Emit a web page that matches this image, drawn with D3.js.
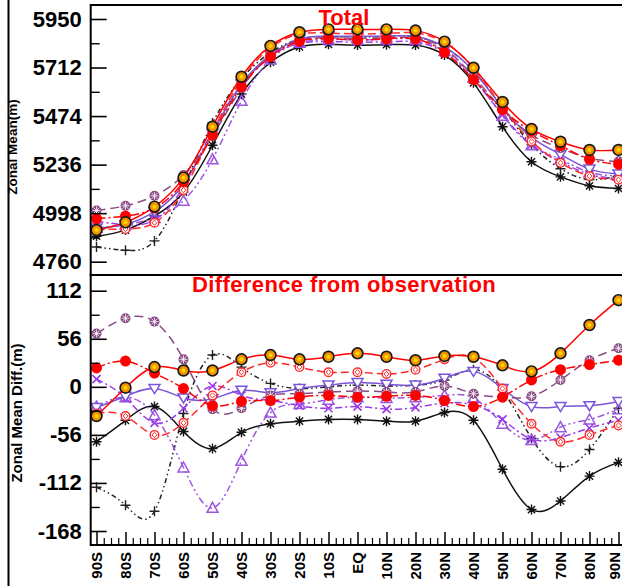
<!DOCTYPE html>
<html><head><meta charset="utf-8">
<script src="https://cdn.jsdelivr.net/npm/d3@7"></script>
<style>html,body{margin:0;padding:0;background:#fff;overflow:hidden}</style>
</head><body>
<svg id="c" width="622" height="586"></svg>
<script>
// ---------- data ----------
const lats = [-90,-80,-70,-60,-50,-40,-30,-20,-10,0,10,20,30,40,50,60,70,80,90];
const latLabels = ["90S","80S","70S","60S","50S","40S","30S","20S","10S","EQ","10N","20N","30N","40N","50N","60N","70N","80N","90N"];
const topTicks = [4760,4998,5236,5474,5712,5950];
const botTicks = [-168,-112,-56,0,56,112];

// Total (m)
const totA = [4915,4953,5030,5172,5422,5667,5818,5885,5899,5899,5899,5893,5839,5711,5543,5411,5348,5308,5308];
const totB = [4971,4984,5023,5151,5381,5618,5765,5841,5854,5848,5853,5852,5787,5653,5506,5401,5329,5262,5238];
const totC = [4918,4920,4951,5111,5393,5652,5809,5876,5881,5877,5879,5882,5835,5710,5516,5350,5245,5180,5162];
const totD = [5011,5034,5083,5185,5377,5610,5771,5845,5858,5855,5858,5856,5804,5668,5506,5382,5317,5267,5252];
const totE = [4925,4943,5005,5140,5389,5631,5774,5851,5866,5865,5867,5864,5813,5694,5516,5370,5286,5214,5190];
const totF = [4958,4941,4965,5128,5404,5625,5766,5831,5839,5837,5838,5838,5784,5655,5480,5332,5250,5188,5168];
const totG = [4926,4942,4974,5059,5262,5549,5751,5833,5849,5848,5851,5850,5793,5663,5475,5331,5262,5198,5181];
const totH = [4885,4915,4984,5101,5331,5582,5738,5813,5826,5822,5824,5822,5773,5637,5422,5250,5176,5132,5119];
const totI = [4832,4816,4862,5122,5440,5658,5785,5851,5864,5862,5865,5864,5811,5696,5514,5333,5216,5163,5182];

// Difference from observation (m)
const difA = [-34,-1,23,19,19,32,37,32,35,39,35,31,36,35,25,18,39,72,101];
const difB = [22,30,16,-2,-22,-17,-16,-12,-10,-12,-11,-10,-16,-23,-12,8,20,26,31];
const difC = [-31,-34,-56,-42,-10,17,28,23,17,17,15,20,32,34,-2,-43,-64,-56,-45];
const difD = [62,80,76,32,-26,-25,-10,-8,-6,-5,-6,-6,1,-8,-12,-11,8,31,45];
const difE = [-24,-11,-2,-13,-14,-4,-7,-2,2,5,3,2,10,18,-2,-23,-23,-22,-17];
const difF = [9,-13,-42,-25,1,-10,-16,-22,-25,-23,-26,-24,-19,-21,-38,-61,-59,-48,-39];
const difG = [-23,-12,-33,-94,-141,-86,-30,-20,-15,-12,-13,-12,-10,-13,-43,-62,-47,-38,-26];
const difH = [-64,-39,-23,-52,-72,-53,-43,-40,-38,-38,-40,-40,-30,-39,-96,-143,-133,-104,-88];
const difI = [-117,-138,-145,-31,37,23,4,-2,0,2,1,2,8,20,-4,-60,-93,-73,-25];

// ---------- styles ----------
const styles = [
  {tot: totI, dif: difI, color: "#222222", dash: "5,3,1.5,3,1.5,3", marker: "plus"},
  {tot: totH, dif: difH, color: "#111111", dash: null, marker: "star"},
  {tot: totG, dif: difG, color: "#9B55E0", dash: "7,3,2,3,2,3", marker: "upTri"},
  {tot: totF, dif: difF, color: "#9A3BE6", dash: "7,3,2,3", marker: "x"},
  {tot: totE, dif: difE, color: "#7A55DA", dash: null, marker: "downTri"},
  {tot: totD, dif: difD, color: "#8A4A84", dash: "9,5", marker: "hatched"},
  {tot: totC, dif: difC, color: "#FF2A2A", dash: "8,4", marker: "redOpen"},
  {tot: totB, dif: difB, color: "#FF0000", dash: "9,3,2,3", marker: "redDot"},
  {tot: totA, dif: difA, color: "#FF0000", dash: null, marker: "orange"}
];

const svg = d3.select("#c");
const W = 622, H = 586;
const FONT = "'Liberation Sans', Arial, sans-serif";
const x = d3.scaleLinear().domain([-92, 92]).range([90.7, 624.3]);
const yTop = d3.scaleLinear().domain([4694.8, 6018.6]).range([275, 5]);
const yBot = d3.scaleLinear().domain([-184.3, 130.3]).range([545, 275]);

// outer left line
svg.append("line").attr("x1", 8.5).attr("x2", 8.5).attr("y1", 0).attr("y2", H)
  .attr("stroke", "#000").attr("stroke-width", 2);

function marker(g, type, color, cx, cy) {
  const m = g.append("g").attr("transform", `translate(${cx},${cy})`);
  switch (type) {
    case "orange":
      m.append("circle").attr("r", 5.4).attr("fill", "#F39400").attr("stroke", "#1a1a1a").attr("stroke-width", 1.7);
      m.append("circle").attr("r", 2).attr("fill", "#FFD700");
      break;
    case "redDot":
      m.append("circle").attr("r", 5.5).attr("fill", "#FF0000");
      break;
    case "redOpen":
      m.append("circle").attr("r", 4.3).attr("fill", "#fff").attr("stroke", color).attr("stroke-width", 1.4);
      m.append("path").attr("d", "M0,-2.6L2.6,0L0,2.6L-2.6,0Z").attr("fill", "none").attr("stroke", color).attr("stroke-width", 1);
      break;
    case "hatched":
      m.append("circle").attr("r", 5).attr("fill", color);
      m.append("path").attr("d", "M-3,-3L3,3M-3,3L3,-3M-4,0L4,0M0,-4L0,4").attr("stroke", "#fff").attr("stroke-width", 0.8);
      break;
    case "downTri":
      m.append("path").attr("d", "M-5.5,-4L5.5,-4L0,5Z").attr("fill", "#fff").attr("stroke", color).attr("stroke-width", 1.5);
      break;
    case "upTri":
      m.append("path").attr("d", "M-5.5,4.5L5.5,4.5L0,-5.5Z").attr("fill", "none").attr("stroke", color).attr("stroke-width", 1.5);
      break;
    case "x":
      m.append("path").attr("d", "M-4,-4L4,4M-4,4L4,-4").attr("stroke", color).attr("stroke-width", 1.6);
      break;
    case "star":
      m.append("path").attr("d", "M-5,0L5,0M0,-5L0,5M-3.6,-3.6L3.6,3.6M-3.6,3.6L3.6,-3.6").attr("stroke", color).attr("stroke-width", 1.4);
      m.append("circle").attr("r", 1.8).attr("fill", color);
      break;
    case "plus":
      m.append("path").attr("d", "M-5,0L5,0M0,-5L0,5").attr("stroke", color).attr("stroke-width", 1.4);
      break;
  }
}

function panel(y, key, y0, y1, majors, title, titleY, spacing) {
  const clipId = "clip" + key;
  svg.append("clipPath").attr("id", clipId).append("rect")
    .attr("x", x.range()[0]).attr("y", y0).attr("width", x.range()[1] - x.range()[0]).attr("height", y1 - y0);
  const g = svg.append("g").attr("clip-path", `url(#${clipId})`);
  const line = d3.line().x((d, i) => x(lats[i])).y(d => y(d)).curve(d3.curveNatural);
  styles.forEach(s => {
    const vals = s[key];
    g.append("path").attr("d", line(vals)).attr("fill", "none")
      .attr("stroke", s.color).attr("stroke-width", 1.5)
      .attr("stroke-dasharray", s.dash);
    vals.forEach((v, i) => marker(g, s.marker, s.color, x(lats[i]), y(v)));
  });

  const step = majors[1] - majors[0];
  const minors = majors.map(v => v + step / 2).filter(v => y(v) > y0 && y(v) < y1);
  const ax = svg.append("g").attr("transform", `translate(${x.range()[0]},0)`)
    .call(d3.axisLeft(y).tickValues(majors).tickSizeInner(-16).tickSizeOuter(0).tickPadding(9)
      .tickFormat(d => String(d)));
  ax.select(".domain").remove();
  ax.selectAll(".tick line").attr("stroke", "#000").attr("stroke-width", 1.6);
  ax.selectAll(".tick text").attr("font-family", FONT)
    .attr("font-weight", "bold").attr("font-size", 22).attr("fill", "#000");
  const axm = svg.append("g").attr("transform", `translate(${x.range()[0]},0)`)
    .call(d3.axisLeft(y).tickValues(minors).tickSizeInner(-9).tickSizeOuter(0).tickFormat(""));
  axm.select(".domain").remove();
  axm.selectAll(".tick line").attr("stroke", "#000").attr("stroke-width", 1.4);

  svg.append("text").attr("x", 344).attr("y", titleY).attr("text-anchor", "middle")
    .attr("font-family", FONT).attr("font-weight", "bold")
    .attr("letter-spacing", spacing)
    .attr("font-size", 22).attr("fill", "#FF0000").text(title);
}

panel(yTop, "tot", 5, 275, topTicks, "Total", 25, 0);
panel(yBot, "dif", 275, 545, botTicks, "Difference from observation", 292, 0.4);

// bottom x axis (ticks inward)
const xMinor = d3.range(-90, 90.01, 2.5).filter(v => v % 10 !== 0);
const xa = svg.append("g").attr("transform", "translate(0,545)")
  .call(d3.axisBottom(x).tickValues(lats).tickSizeInner(-13).tickSizeOuter(0).tickFormat(""));
xa.select(".domain").remove();
xa.selectAll(".tick line").attr("stroke", "#000").attr("stroke-width", 1.5);
const xm = svg.append("g").attr("transform", "translate(0,545)")
  .call(d3.axisBottom(x).tickValues(xMinor).tickSizeInner(-7).tickSizeOuter(0).tickFormat(""));
xm.select(".domain").remove();
xm.selectAll(".tick line").attr("stroke", "#000").attr("stroke-width", 1.2);

svg.append("g").selectAll("text").data(lats).join("text")
  .attr("transform", d => `translate(${Math.min(x(d), W - 7)},552) rotate(-90)`)
  .attr("text-anchor", "end").attr("dy", "0.35em")
  .attr("font-family", FONT).attr("font-weight", "bold")
  .attr("font-size", 15).attr("fill", "#000")
  .text((d, i) => latLabels[i]);

// frames
const fx0 = x.range()[0], fx1 = x.range()[1];
svg.append("rect").attr("x", fx0).attr("y", 5).attr("width", fx1 - fx0).attr("height", 270)
  .attr("fill", "none").attr("stroke", "#000").attr("stroke-width", 2);
svg.append("rect").attr("x", fx0).attr("y", 275).attr("width", fx1 - fx0).attr("height", 270)
  .attr("fill", "none").attr("stroke", "#000").attr("stroke-width", 2);

// y titles
svg.append("text").attr("transform", "translate(17,147) rotate(-90)").attr("text-anchor", "middle")
  .attr("font-family", FONT).attr("font-weight", "bold")
  .attr("font-size", 13.5).attr("fill", "#000").text("Zonal Mean(m)");
svg.append("text").attr("transform", "translate(22,413) rotate(-90)").attr("text-anchor", "middle")
  .attr("font-family", FONT).attr("font-weight", "bold")
  .attr("font-size", 15).attr("fill", "#000").text("Zonal Mean Diff.(m)");
</script>
</body></html>
